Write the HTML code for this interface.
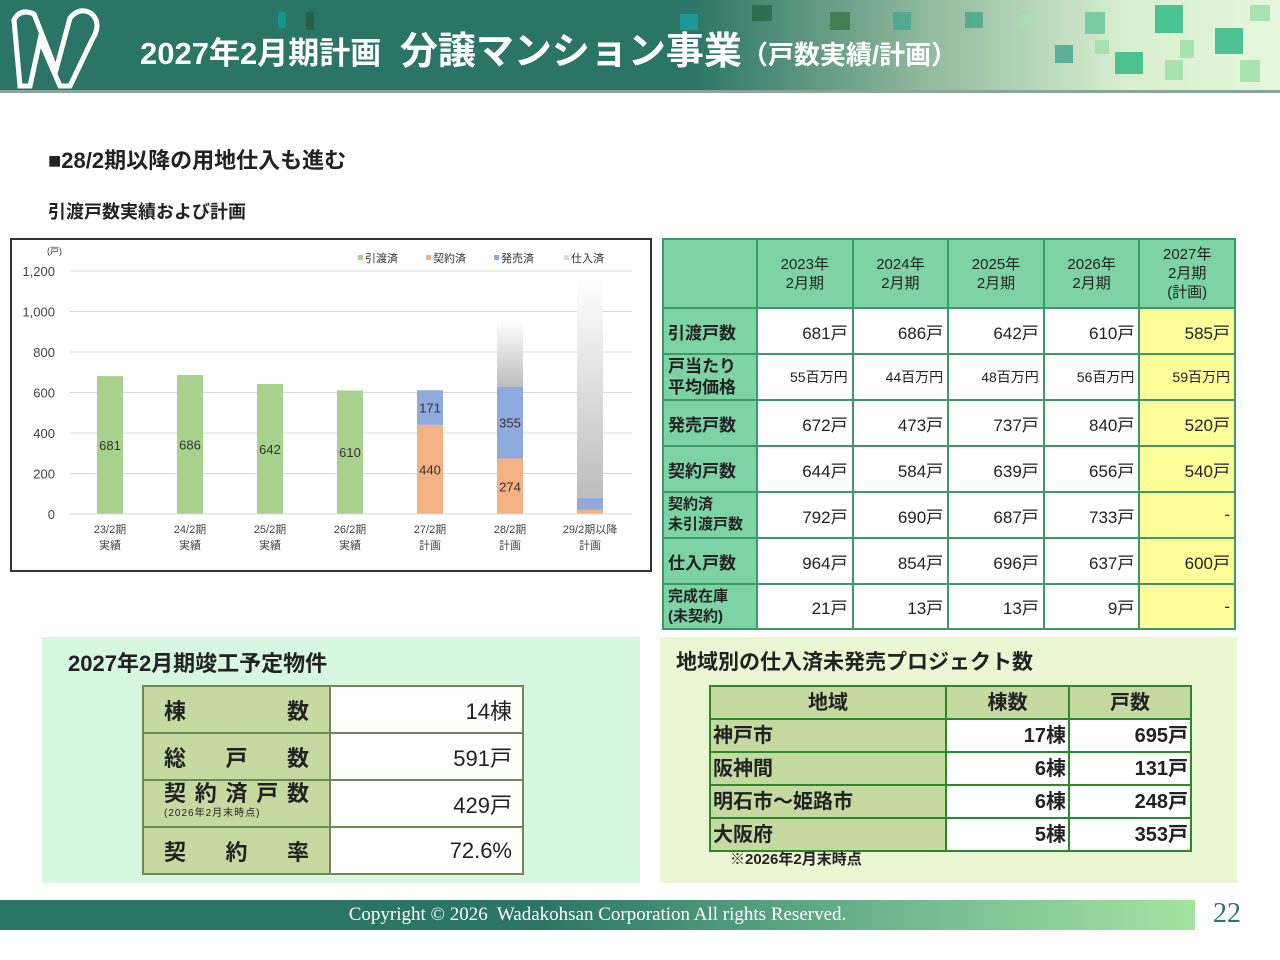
<!DOCTYPE html>
<html><head><meta charset="utf-8">
<style>
body{margin:0;width:1280px;height:960px;position:relative;background:#fff;font-family:"Liberation Sans","Noto Sans CJK JP",sans-serif;overflow:hidden;color:#222}
.abs{position:absolute}
table{border-collapse:collapse;position:absolute;table-layout:fixed}
.mt td{border:2px solid #3a9a6a;font-size:17px;text-align:right;padding:0 4px 0 0}
.mt td.h{background:#7dd3a5;text-align:center;font-size:15px;line-height:19px;padding:0}
.mt td.l{background:#7dd3a5;text-align:left;padding-left:4px;font-size:17px;font-weight:bold;color:#222}
.mt td.y{background:#ffff99}
.lt td{border:2px solid #6b8a55;font-size:22px}
.rt td{border:2px solid #2a8a2a;font-size:20px;font-weight:bold;line-height:22px;padding:0 2px;overflow:hidden}
</style></head><body>
<div class="abs" style="left:0;top:0;width:1280px;height:90px;background:linear-gradient(90deg,#2b7566 0%,#2b7566 54%,#8fb89c 72%,#d8efcf 88%,#e6f7dc 100%);border-bottom:3px solid #8aa59a"></div>
<svg class="abs" style="left:0;top:0" width="1280" height="92">
<g opacity="0.85">
<rect x="306" y="12" width="8" height="18" fill="#235c45"/><rect x="278" y="12" width="8" height="16" fill="#129a9a"/>
<rect x="752" y="5" width="20" height="16" fill="#2a6a48"/><rect x="830" y="12" width="20" height="18" fill="#3c7a48"/>
<rect x="893" y="12" width="18" height="18" fill="#4aa890"/><rect x="965" y="12" width="18" height="16" fill="#4aa890"/>
<rect x="680" y="14" width="18" height="16" fill="#18a0a0"/><rect x="1020" y="14" width="16" height="14" fill="#a8e0b0"/>
<rect x="1085" y="12" width="20" height="22" fill="#6cc8a0"/><rect x="1155" y="5" width="28" height="28" fill="#34bb88"/>
<rect x="1215" y="28" width="28" height="26" fill="#34bb88"/><rect x="1115" y="52" width="28" height="22" fill="#34bb88"/>
<rect x="1055" y="45" width="18" height="18" fill="#4aa890"/><rect x="1180" y="40" width="14" height="18" fill="#a0e0a8"/>
<rect x="1250" y="5" width="20" height="16" fill="#a0e0a8"/><rect x="1240" y="60" width="20" height="22" fill="#a0e0a8"/>
<rect x="1095" y="40" width="14" height="14" fill="#a0e0a8"/><rect x="1165" y="60" width="18" height="20" fill="#a0e0a8"/>
</g>
<path d="M14 20 Q20 8 34 14 L56 70 L70 18 Q80 6 92 14 Q102 24 92 40 L70 86 L60 86 L40 40 L30 86 L20 86 Z" fill="none" stroke="#fff" stroke-width="5"/>
</svg>
<div class="abs" style="left:140px;top:28px;color:#fff;font-weight:bold;font-size:31px;white-space:nowrap;line-height:48px">2027年2月期計画 <span style="font-size:38px;margin-left:10px">分譲マンション事業</span><span style="font-size:26px">（戸数実績/計画）</span></div>

<div class="abs" style="left:48px;top:143px;font-size:22px;font-weight:bold">■28/2期以降の用地仕入も進む</div>
<div class="abs" style="left:48px;top:198px;font-size:18px;font-weight:bold">引渡戸数実績および計画</div>

<div class="abs" style="left:10px;top:238px;width:642px;height:334px;border:2px solid #333;box-sizing:border-box"></div>
<svg id="chart" class="abs" style="left:0;top:0" width="660" height="580">
<defs><linearGradient id="gg" x1="0" y1="1" x2="0" y2="0"><stop offset="0" stop-color="#bdbdbd"/><stop offset="1" stop-color="#ffffff"/></linearGradient></defs>
</svg>
<script>
const categories=["23/2期","24/2期","25/2期","26/2期","27/2期","28/2期","29/2期以降"];
const sublabels=["実績","実績","実績","実績","計画","計画","計画"];
const delivered=[681,686,642,610,0,0,0];
const contracted=[0,0,0,0,440,274,20];
const onSale=[0,0,0,0,171,355,60];
const purchased=[0,0,0,0,0,329,1085];
const yTicks=[0,200,400,600,800,1000,1200];
const yTickLabels=["0","200","400","600","800","1,000","1,200"];
const svg=document.getElementById('chart');const NS="http://www.w3.org/2000/svg";
const y=v=>514-v*243/1200;const x=i=>110+i*80;const BW=26;
function mk(t,a){const e=document.createElementNS(NS,t);for(const k in a)e.setAttribute(k,a[k]);svg.appendChild(e);return e;}
yTicks.forEach((t,i)=>{const l=mk('line',{x1:70,x2:632,y1:y(t),y2:y(t),stroke:'#d9d9d9'});


const tx=mk('text',{x:55,y:y(t)+5,'text-anchor':'end','font-size':13,fill:'#444'});tx.textContent=yTickLabels[i];

});
const u=mk('text',{x:47,y:254,'font-size':9,fill:'#333'});u.textContent='(戸)';


const series=[[delivered,'#a9d18e','delivered'],[contracted,'#f4b183','contracted'],[onSale,'#8faadc','on-sale'],[purchased,'url(#gg)','purchased']];
categories.forEach((c,i)=>{let acc=0;series.forEach(([arr,col,nm])=>{const v=arr[i];if(v>0){const r=mk('rect',{x:x(i)-BW/2,y:y(acc+v),width:BW,height:y(acc)-y(acc+v),fill:col});


if(v>100&&nm!=='purchased'){const t=mk('text',{x:x(i),y:(y(acc)+y(acc+v))/2+5,'text-anchor':'middle','font-size':13,fill:'#333'});t.textContent=v;

}}acc+=v;});
const a=mk('text',{x:x(i),y:533,'text-anchor':'middle','font-size':11,fill:'#444'});a.textContent=c;


const b=mk('text',{x:x(i),y:549,'text-anchor':'middle','font-size':11,fill:'#444'});b.textContent=sublabels[i];

});
mk('line',{x1:70,x2:632,y1:514,y2:514,stroke:'#d9d9d9'});
const leg=[['引渡済','#a9d18e',358],['契約済','#f4b183',426],['発売済','#8faadc',494],['仕入済','#d9d9d9',564]];
leg.forEach(([t,c,lx])=>{const r=mk('rect',{x:lx,y:255,width:5,height:5,fill:c});


const tx=mk('text',{x:lx+7,y:262,'font-size':11,fill:'#333'});tx.textContent=t;

});
</script>

<table class="mt" style="left:662px;top:238px;width:574px">
<tr style="height:69px"><td class="h" style="width:92px"></td><td class="h">2023年<br>2月期</td><td class="h">2024年<br>2月期</td><td class="h">2025年<br>2月期</td><td class="h">2026年<br>2月期</td><td class="h">2027年<br>2月期<br>(計画)</td></tr>
<tr style="height:46px"><td class="l">引渡戸数</td><td>681戸</td><td>686戸</td><td>642戸</td><td>610戸</td><td class="y">585戸</td></tr>
<tr style="height:46px;font-size:14px"><td class="l" style="line-height:21px">戸当たり<br>平均価格</td><td style="font-size:14px">55百万円</td><td style="font-size:14px">44百万円</td><td style="font-size:14px">48百万円</td><td style="font-size:14px">56百万円</td><td class="y" style="font-size:14px">59百万円</td></tr>
<tr style="height:46px"><td class="l">発売戸数</td><td>672戸</td><td>473戸</td><td>737戸</td><td>840戸</td><td class="y">520戸</td></tr>
<tr style="height:46px"><td class="l">契約戸数</td><td>644戸</td><td>584戸</td><td>639戸</td><td>656戸</td><td class="y">540戸</td></tr>
<tr style="height:46px"><td class="l" style="font-size:15px;line-height:20px">契約済<br>未引渡戸数</td><td>792戸</td><td>690戸</td><td>687戸</td><td>733戸</td><td class="y">-</td></tr>
<tr style="height:46px"><td class="l">仕入戸数</td><td>964戸</td><td>854戸</td><td>696戸</td><td>637戸</td><td class="y">600戸</td></tr>
<tr style="height:45px"><td class="l" style="font-size:15px;line-height:20px">完成在庫<br>(未契約)</td><td>21戸</td><td>13戸</td><td>13戸</td><td>9戸</td><td class="y">-</td></tr>
</table>

<div class="abs" style="left:42px;top:637px;width:598px;height:246px;background:#d8f7e0"></div>
<div class="abs" style="left:68px;top:646px;font-size:22px;font-weight:bold">2027年2月期竣工予定物件</div>
<table class="lt" style="left:142px;top:685px;width:382px">
<colgroup><col style="width:187px"><col></colgroup>
<tr style="height:47px"><td style="background:#c5d9a0;padding:0 20px;font-weight:bold"><span style="display:flex;justify-content:space-between"><span>棟</span><span>数</span></span></td><td style="background:#fff;text-align:right;padding-right:10px">14棟</td></tr>
<tr style="height:47px"><td style="background:#c5d9a0;padding:0 20px;font-weight:bold"><span style="display:flex;justify-content:space-between"><span>総</span><span>戸</span><span>数</span></span></td><td style="background:#fff;text-align:right;padding-right:10px">591戸</td></tr>
<tr style="height:47px"><td style="background:#c5d9a0;padding:0 20px;font-weight:bold;line-height:20px"><span style="display:flex;justify-content:space-between"><span>契</span><span>約</span><span>済</span><span>戸</span><span>数</span></span><div style="font-size:10px;font-weight:normal;letter-spacing:1px;white-space:nowrap">(2026年2月末時点)</div></td><td style="background:#fff;text-align:right;padding-right:10px">429戸</td></tr>
<tr style="height:47px"><td style="background:#c5d9a0;padding:0 20px;font-weight:bold"><span style="display:flex;justify-content:space-between"><span>契</span><span>約</span><span>率</span></span></td><td style="background:#fff;text-align:right;padding-right:10px">72.6%</td></tr>
</table>

<div class="abs" style="left:660px;top:637px;width:577px;height:246px;background:#ebf6d2"></div>
<div class="abs" style="left:676px;top:646px;font-size:21px;font-weight:bold">地域別の仕入済未発売プロジェクト数</div>
<table class="rt" style="left:709px;top:685px;width:483px">
<colgroup><col style="width:236px"><col style="width:123px"><col></colgroup>
<tr style="height:33px;background:#c5d9a0;text-align:center"><td>地域</td><td>棟数</td><td>戸数</td></tr>
<tr style="height:33px"><td style="background:#c5d9a0">神戸市</td><td style="background:#fff;text-align:right">17棟</td><td style="background:#fff;text-align:right">695戸</td></tr>
<tr style="height:33px"><td style="background:#c5d9a0">阪神間</td><td style="background:#fff;text-align:right">6棟</td><td style="background:#fff;text-align:right">131戸</td></tr>
<tr style="height:33px"><td style="background:#c5d9a0">明石市～姫路市</td><td style="background:#fff;text-align:right">6棟</td><td style="background:#fff;text-align:right">248戸</td></tr>
<tr style="height:33px"><td style="background:#c5d9a0">大阪府</td><td style="background:#fff;text-align:right">5棟</td><td style="background:#fff;text-align:right">353戸</td></tr>
</table>
<div class="abs" style="left:730px;top:848px;font-size:15px;font-weight:bold">※2026年2月末時点</div>

<div class="abs" style="left:0;top:900px;width:1195px;height:30px;background:linear-gradient(90deg,#2a7566 0%,#2a7566 45%,#6fb890 75%,#a5e3a0 100%);color:#fff;font-family:'Liberation Serif',serif;font-size:19px;line-height:30px;text-align:center">Copyright © 2026&nbsp; Wadakohsan Corporation All rights Reserved.</div>
<div class="abs" style="left:1213px;top:898px;font-family:'Liberation Serif',serif;font-size:28px;color:#2a7566">22</div>
</body></html>
